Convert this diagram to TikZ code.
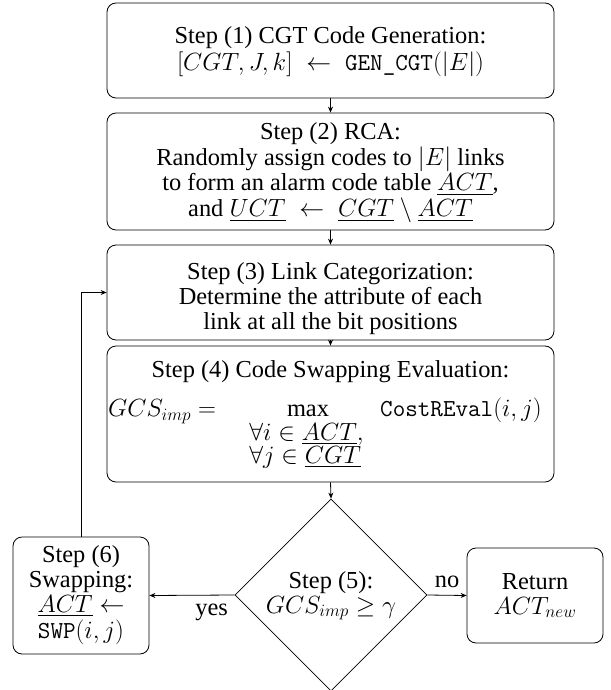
\documentclass[tikz,border=0pt]{standalone}
\usepackage{amsmath}
\usepackage{fontspec}
\setmainfont{Liberation Serif}
\usetikzlibrary{shapes.geometric,arrows.meta}
\newcommand{\mlines}[2][c]{\begin{tabular}[t]{@{}#1@{}}#2\end{tabular}}
\begin{document}
\begin{tikzpicture}[x=1pt,y=-1pt,
  every node/.style={font=\fontsize{24.4}{25}\selectfont},
  stepbox/.style={draw,rounded corners=9pt,line width=0.8pt,inner sep=0pt},
  txt/.style={inner sep=0pt,anchor=base},
  conn/.style={line width=0.8pt,-{Stealth[length=6pt,width=5pt]}}]
\useasboundingbox (0,0) rectangle (610,690);
% boxes
\node[stepbox,minimum width=447pt,minimum height=95pt] (b1) at (330.5,50.5) {};
\node[txt] (t1) at (330.5,44) {\mlines{Step (1) CGT Code Generation:\\ $[CGT, J, k] \;\leftarrow\; \texttt{GEN\_CGT}(|E|)$}};
\node[stepbox,minimum width=447pt,minimum height=117pt] (b2) at (330.5,171.5) {};
\node[txt] (t2) at (330.5,139.5) {\mlines{Step (2) RCA:\\ Randomly assign codes to $|E|$ links\\ to form an alarm code table $\underline{ACT}$,\\ and $\underline{UCT} \;\leftarrow\; \underline{CGT} \setminus \underline{ACT}$}};
\node[stepbox,minimum width=447pt,minimum height=95pt] (b3) at (330.5,292.5) {};
\node[txt] (t3) at (330.5,279) {\mlines{Step (3) Link Categorization:\\ Determine the attribute of each\\ link at all the bit positions}};
\node[stepbox,minimum width=447pt,minimum height=136pt] (b4) at (330.5,414) {};
\node[txt] (t4) at (330.5,377.7) {Step (4) Code Swapping Evaluation:};
\node[txt,anchor=base west] (t4a) at (108,416.7) {$GCS_{imp} =$};
\node[txt] (t4b) at (308,416.7) {$\max$};
\node[txt] (t4c) at (306.5,440) {\mlines[l]{$\forall i \in \underline{ACT},$\\[-2pt] $\forall j \in \underline{CGT}$}};
\node[txt,anchor=base west] (t4d) at (380,416.7) {$\texttt{CostREval}(i,j)$};
% diamond
\node[draw,diamond,aspect=1,line width=0.8pt,minimum width=192pt,minimum height=192pt,inner sep=0pt] (d5) at (331,595) {};
\node[txt] (t5) at (331,588) {\mlines{Step (5):\\ $GCS_{imp} \ge \gamma$}};
\node[stepbox,minimum width=136pt,minimum height=117pt] (b6) at (81,595.5) {};
\node[txt] (t6) at (81,562.5) {\mlines{Step (6)\\ Swapping:\\ $\underline{ACT} \leftarrow$\\ $\texttt{SWP}(i,j)$}};
\node[stepbox,minimum width=136pt,minimum height=95pt] (b7) at (535,595.5) {};
\node[txt] (t7) at (535,589) {\mlines{Return\\ $ACT_{new}$}};
% connectors
\draw[conn] (b1.south) -- (b2.north);
\draw[conn] (b2.south) -- (b3.north);
\draw[conn] (b3.south) -- (b4.north);
\draw[conn] (b4.south) -- (d5.north);
\draw[conn] (d5.west) -- node[pos=0.27,anchor=base,inner sep=0pt,yshift=-20pt] {yes} (b6.east);
\draw[conn] (d5.east) -- node[anchor=base,inner sep=0pt,yshift=8pt] {no} (b7.west);
\coordinate (c1) at (81,292.5);
\draw[conn] (b6.north) -- (c1) -- (b3.west);
\end{tikzpicture}
\end{document}
